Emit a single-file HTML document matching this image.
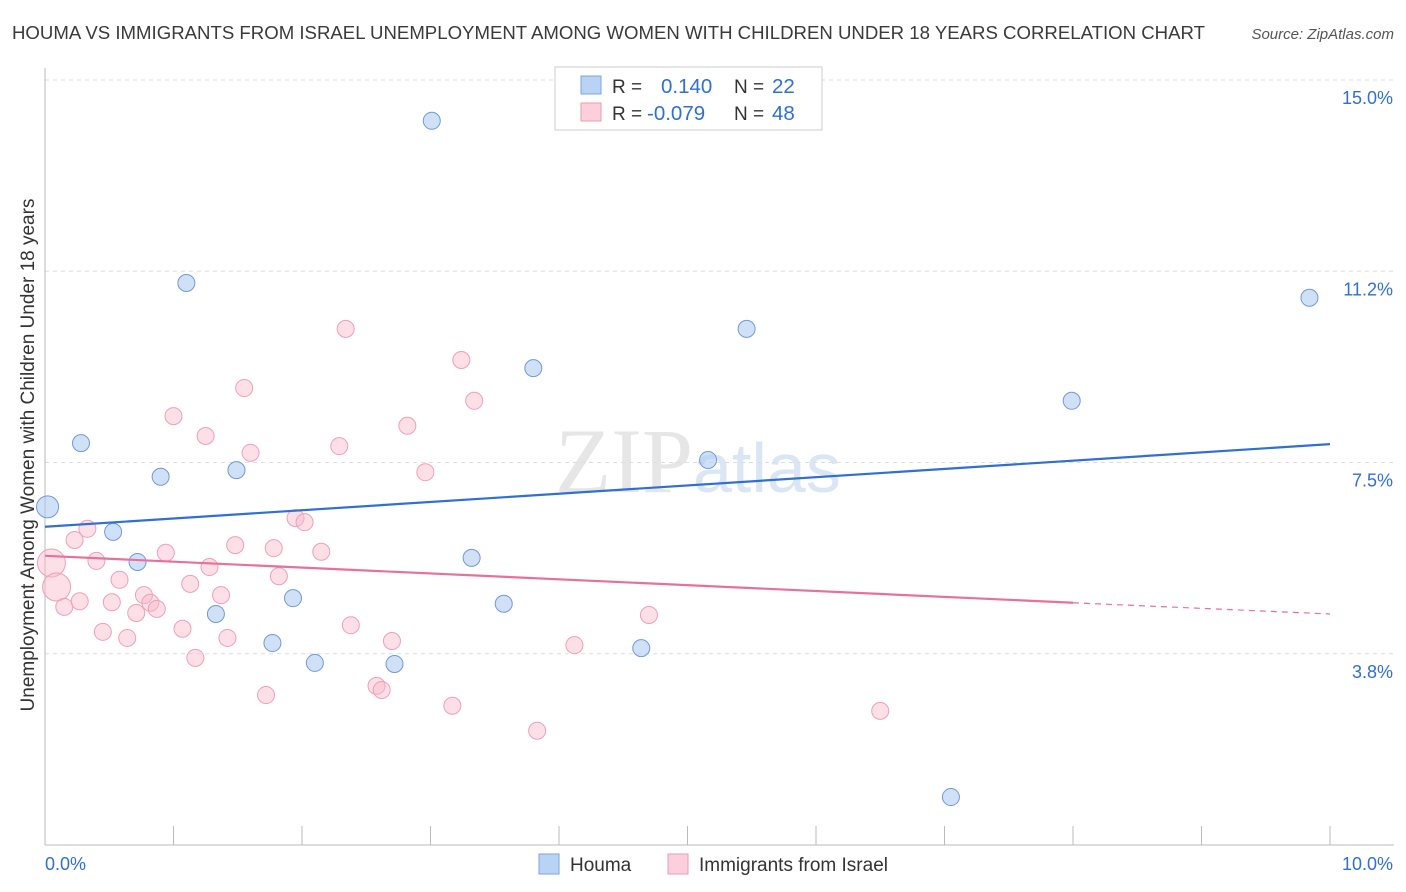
<!DOCTYPE html>
<html><head><meta charset="utf-8"><style>
body{margin:0;background:#fff;font-family:"Liberation Sans",sans-serif;}
svg{display:block}
</style></head><body>
<svg id="chart" width="1406" height="892" xmlns="http://www.w3.org/2000/svg" font-family="Liberation Sans, sans-serif">
<text x="12" y="39" font-size="18.5" textLength="1193" lengthAdjust="spacingAndGlyphs" fill="#3a3a3a">HOUMA VS IMMIGRANTS FROM ISRAEL UNEMPLOYMENT AMONG WOMEN WITH CHILDREN UNDER 18 YEARS CORRELATION CHART</text>
<text x="1394" y="39" font-size="15" fill="#555" font-style="italic" text-anchor="end">Source: ZipAtlas.com</text>
<text x="555" y="492" font-size="92" fill="#e6e6e6" font-family="Liberation Serif, serif">ZIP<tspan fill="#dbe6f5" font-family="Liberation Sans, sans-serif" font-size="70">atlas</tspan></text>
<g id="grid"></g><g id="axes"></g><g id="marks"></g>
<text transform="translate(34,455) rotate(-90)" text-anchor="middle" font-size="19" fill="#333">Unemployment Among Women with Children Under 18 years</text>
<g>
<rect x="555" y="67" width="267" height="63" fill="#fff" stroke="#ccc"/>
<rect x="581" y="76" width="20" height="18" fill="#b9d3f5" stroke="#7aa6e0"/>
<rect x="581" y="103" width="20" height="18" fill="#fbd0dc" stroke="#ee9ab3"/>
<text x="612" y="93" font-size="19" fill="#333">R = </text><text x="661" y="93" font-size="20.5" fill="#2f6fd6">0.140</text>
<text x="734" y="93" font-size="19" fill="#333">N = </text><text x="772" y="93" font-size="20.5" fill="#2f6fd6">22</text>
<text x="612" y="120" font-size="19" fill="#333">R = </text><text x="647" y="120" font-size="20.5" fill="#2f6fd6">-0.079</text>
<text x="734" y="120" font-size="19" fill="#333">N = </text><text x="772" y="120" font-size="20.5" fill="#2f6fd6">48</text>
</g>
<g>
<rect x="539" y="854" width="20" height="20" fill="#b9d3f5" stroke="#7aa6e0"/>
<text x="570" y="871" font-size="19" fill="#333">Houma</text>
<rect x="668" y="854" width="20" height="20" fill="#fbd0dc" stroke="#ee9ab3"/>
<text x="699" y="871" font-size="19" fill="#333">Immigrants from Israel</text>
</g>
</svg>
<script>
const yTicks=[15.0,11.25,7.5,3.75];
const yTickLabels=["15.0%","11.2%","7.5%","3.8%"];
const xTicks=[0,1,2,3,4,5,6,7,8,9,10];
const houmaX=[0.02,0.28,0.53,0.72,0.90,1.10,1.33,1.49,1.77,1.93,2.10,2.72,3.01,3.32,3.57,3.80,4.64,5.16,5.46,7.05,7.99,9.84];
const houmaY=[6.63,7.88,6.14,5.55,7.22,11.02,4.53,7.35,3.96,4.84,3.57,3.55,14.20,5.63,4.73,9.35,3.86,7.55,10.12,0.94,8.71,10.73];
const israelX=[0.05,0.09,0.15,0.23,0.27,0.33,0.40,0.45,0.52,0.58,0.64,0.71,0.77,0.82,0.87,0.94,1.00,1.07,1.13,1.17,1.25,1.28,1.37,1.42,1.48,1.55,1.60,1.72,1.78,1.82,1.95,2.02,2.15,2.29,2.34,2.38,2.58,2.62,2.70,2.82,2.96,3.17,3.24,3.34,3.83,4.12,4.70,6.50];
const israelY=[5.53,5.06,4.67,5.98,4.78,6.20,5.57,4.18,4.76,5.20,4.06,4.55,4.90,4.75,4.63,5.73,8.41,4.24,5.12,3.67,8.02,5.45,4.90,4.06,5.88,8.96,7.69,2.94,5.82,5.27,6.41,6.33,5.75,7.82,10.12,4.31,3.12,3.04,4.00,8.22,7.31,2.73,9.51,8.71,2.24,3.92,4.51,2.63];
const houmaTrend=[6.24,7.86];
const israelTrend=[5.67,4.75,4.53];
const sx=v=>45+v*128.5;
const sy=v=>845-v*51;
const NS="http://www.w3.org/2000/svg";
function mk(tag,attrs,parent){const e=document.createElementNS(NS,tag);for(const k in attrs)e.setAttribute(k,attrs[k]);parent.appendChild(e);return e;}
const grid=document.getElementById('grid'),axes=document.getElementById('axes'),marks=document.getElementById('marks');
yTicks.forEach((t,i)=>{
 const l=mk('line',{x1:45,x2:1394,y1:sy(t),y2:sy(t),stroke:'#ddd','stroke-dasharray':'4,4'},grid);
 
 
 const tx=mk('text',{x:1393,y:sy(t)+24,'text-anchor':'end','font-size':18,fill:'#2f6fd6'},axes);
 tx.textContent=yTickLabels[i];
 
 
});
const ax=mk('line',{x1:45,x2:1394,y1:845,y2:845,stroke:'#bbb'},axes);


const ay=mk('line',{x1:45,x2:45,y1:68,y2:845,stroke:'#bbb'},axes);


xTicks.forEach(t=>{
 const l=mk('line',{x1:sx(t),x2:sx(t),y1:826,y2:845,stroke:'#bbb'},axes);
 
 
});
const xl0=mk('text',{x:45,y:870,'font-size':18,fill:'#2f6fd6'},axes);xl0.textContent=xTicks[0].toFixed(1)+"%";


const xl1=mk('text',{x:1393,y:870,'font-size':18,fill:'#2f6fd6','text-anchor':'end'},axes);xl1.textContent=xTicks[xTicks.length-1].toFixed(1)+"%";


israelX.forEach((x,i)=>{
 const c=mk('circle',{cx:sx(x),cy:sy(israelY[i]),r:i<2?14:8.5,fill:'rgba(248,183,202,0.45)',stroke:'#eea0b8','stroke-width':1},marks);
 
 
});
houmaX.forEach((x,i)=>{
 const c=mk('circle',{cx:sx(x),cy:sy(houmaY[i]),r:i==0?11:8.5,fill:'rgba(170,200,240,0.55)',stroke:'#6f9ad8','stroke-width':1},marks);
 
 
});
const tb=mk('line',{x1:sx(0),y1:sy(houmaTrend[0]),x2:sx(10),y2:sy(houmaTrend[1]),stroke:'#2f6fd6','stroke-width':2.2},marks);


const tp=mk('line',{x1:sx(0),y1:sy(israelTrend[0]),x2:sx(8),y2:sy(israelTrend[1]),stroke:'#e8709a','stroke-width':2.2},marks);


const td=mk('line',{x1:sx(8),y1:sy(israelTrend[1]),x2:sx(10),y2:sy(israelTrend[2]),stroke:'#e8709a','stroke-width':1.2,'stroke-dasharray':'6,5'},marks);


</script>
</body></html>
